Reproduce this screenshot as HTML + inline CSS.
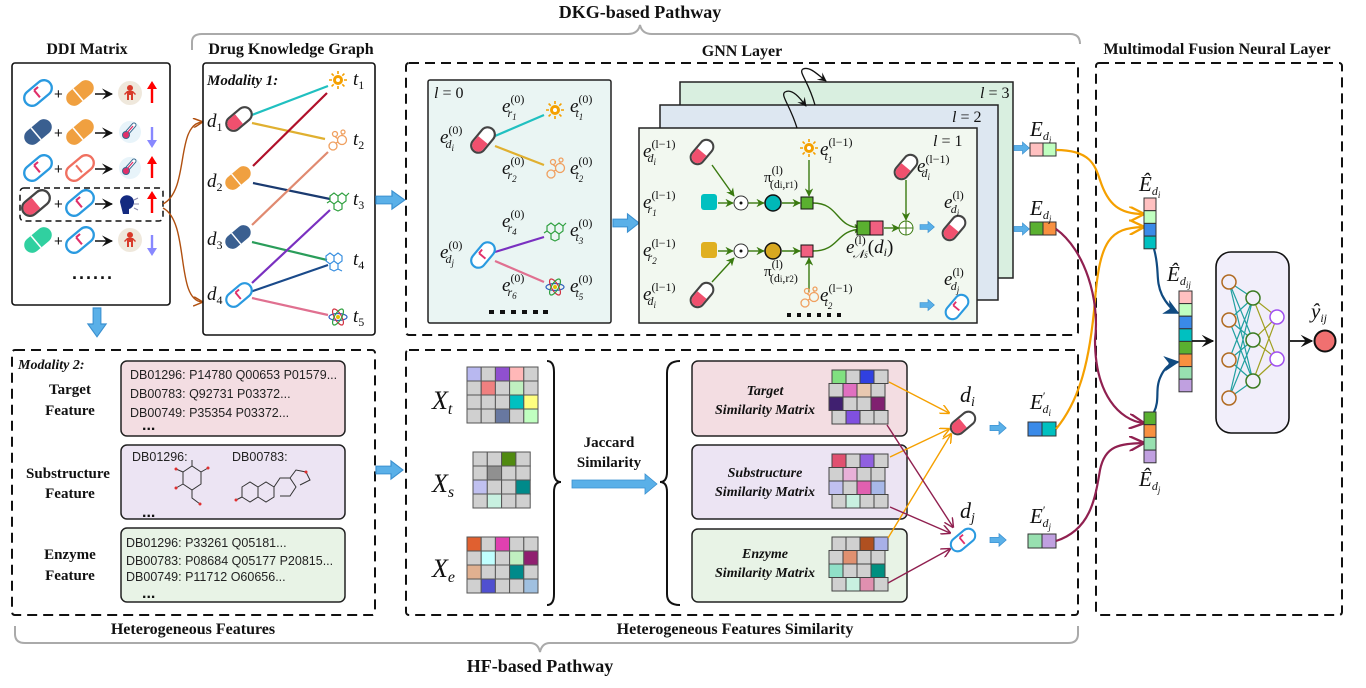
<!DOCTYPE html>
<html><head><meta charset="utf-8"><style>
html,body{margin:0;padding:0;background:#fff;}
svg{display:block;}
.t{font-family:"Liberation Serif",serif;font-weight:bold;fill:#111;}
.m{font-family:"Liberation Serif",serif;font-style:italic;font-size:19px;fill:#111;}
.s{font-size:12px;}
.ss{font-size:9px;}
.n{font-style:normal;}
.db{font-family:"Liberation Sans",sans-serif;font-size:12.5px;fill:#222;}
.bi{font-family:"Liberation Serif",serif;font-weight:bold;font-style:italic;font-size:14px;fill:#111;}
</style></head><body>
<svg width="1366" height="688" viewBox="0 0 1366 688" xmlns="http://www.w3.org/2000/svg">
<defs>
<g id="pw"><rect x="-12" y="-6" width="24" height="12" rx="6" fill="#fff" stroke="#444" stroke-width="1.8"/><path d="M0,-5.1 H-6 A5.1,5.1 0 0 0 -6,5.1 H0Z" fill="#f0506e"/></g>
<g id="pb"><rect x="-12" y="-6" width="24" height="12" rx="6" fill="#fff" stroke="#2a9ae0" stroke-width="1.8"/><path d="M-1,-3.5 V3.5 M-1,-3.5 H3" stroke="#e0306a" stroke-width="1.6" fill="none"/></g>
<g id="po"><rect x="-12" y="-6" width="24" height="12" rx="6" fill="#f0a040"/><path d="M-2,-6 V6" stroke="#fff" stroke-width="1.2"/></g>
<g id="pn"><rect x="-12" y="-6" width="24" height="12" rx="6" fill="#3a5f90"/><path d="M-2,-6 V6" stroke="#fff" stroke-width="1.2"/></g>
<g id="pg"><rect x="-12" y="-6" width="24" height="12" rx="6" fill="#30d0a0"/><path d="M-2,-6 V6" stroke="#fff" stroke-width="1.2"/></g>
<g id="ps"><rect x="-12" y="-6" width="24" height="12" rx="6" fill="#fff" stroke="#f07060" stroke-width="1.8"/><path d="M-1,-3.5 V3.5" stroke="#f07060" stroke-width="1.6"/></g>
<path id="ba" d="M0,-3 H10 V-7 L18,0 L10,7 V3 H0Z" fill="#5ab0e8" stroke="#3a90d0" stroke-width="0.8"/>
<g id="sun"><circle r="5" fill="#f5a000"/><circle r="2" fill="#fff"/><g stroke="#f5a000" stroke-width="1.6"><path d="M0,-9V-6M0,6V9M-9,0H-6M6,0H9M-6.4,-6.4L-4.3,-4.3M4.3,4.3L6.4,6.4M-6.4,6.4L-4.3,4.3M4.3,-4.3L6.4,-6.4"/></g></g>
<g id="mol" fill="none" stroke="#f0a060" stroke-width="1.3"><circle cx="-4" cy="4" r="4"/><circle cx="5" cy="-2" r="4.5"/><circle cx="-2" cy="-8" r="2.5"/><circle cx="6" cy="-10" r="2"/><path d="M-1,1 L1,0 M-2,-5.5 L1,-3 M5,-8 V-6.5"/></g>
<g id="hexg" fill="none" stroke="#30a040" stroke-width="1.2"><path d="M-9,-4 L-5,-7 L-1,-4 L-1,1 L-5,4 L-9,1Z M-1,-4 L3,-7 L7,-4 L7,1 L3,4 L-1,1 M-1,1 L3,4 L3,9 L-1,11 L-5,9 L-5,4 M7,-4 L10,-7 M-9,1 L-12,3"/></g>
<g id="hexb" fill="none" stroke="#3a90e0" stroke-width="1.2"><path d="M-9,-4 L-5,-7 L-1,-4 L-1,1 L-5,4 L-9,1Z M-1,-4 L3,-7 L7,-4 L7,1 L3,4 L-1,1 M-1,1 L3,4 L3,9 L-1,11 L-5,9 L-5,4 M3,9 L7,11"/></g>
<g id="atom" fill="none" stroke-width="1.2"><ellipse rx="9" ry="3.5" stroke="#3060c0"/><ellipse rx="9" ry="3.5" stroke="#d03040" transform="rotate(60)"/><ellipse rx="9" ry="3.5" stroke="#30a040" transform="rotate(-60)"/><circle r="2" fill="#e0c000" stroke="none"/></g>
<g id="hum"><circle r="12" fill="#efe8dc"/><g fill="#d83a2a"><circle cy="-5" r="3"/><path d="M-3,-2 H3 L6,1 L5,2 L3,0 V7 H1 V2 H-1 V7 H-3 V0 L-5,2 L-6,1Z"/></g></g>
<g id="therm"><circle r="11" fill="#e8f4fa"/><path d="M4,-7 L-3,1" stroke="#3a6a90" stroke-width="5" stroke-linecap="round"/><path d="M4,-7 L-3,1" stroke="#fff" stroke-width="3" stroke-linecap="round"/><circle cx="-4" cy="3" r="3.5" fill="#e0306a" stroke="#3a6a90"/><path d="M3,-6 L-3,1" stroke="#e0306a" stroke-width="1.3"/></g>
<marker id="ar" viewBox="0 0 10 10" refX="9" refY="5" markerWidth="7" markerHeight="7" orient="auto"><path d="M0,0 L10,5 L0,10 L4,5Z" fill="#111"/></marker>
<marker id="arb" viewBox="0 0 10 10" refX="9" refY="5" markerWidth="7" markerHeight="7" orient="auto"><path d="M0,0 L10,5 L0,10" fill="none" stroke="#b05010" stroke-width="1.5"/></marker>
<marker id="arg" viewBox="0 0 10 10" refX="9" refY="5" markerWidth="6" markerHeight="6" orient="auto"><path d="M0,0 L10,5 L0,10 L3,5Z" fill="#3a7a10"/></marker>
<marker id="aro" viewBox="0 0 10 10" refX="9" refY="5" markerWidth="7" markerHeight="7" orient="auto"><path d="M0,0 L10,5 L0,10" fill="none" stroke="#f5a000" stroke-width="1.5"/></marker>
<marker id="arp" viewBox="0 0 10 10" refX="9" refY="5" markerWidth="7" markerHeight="7" orient="auto"><path d="M0,0 L10,5 L0,10" fill="none" stroke="#902050" stroke-width="1.5"/></marker>
<marker id="arn" viewBox="0 0 10 10" refX="9" refY="5" markerWidth="7" markerHeight="7" orient="auto"><path d="M0,0 L10,5 L0,10 L3,5Z" fill="#104a80"/></marker>
</defs>

<!-- Titles -->
<text class="t" x="640" y="18" font-size="18" text-anchor="middle">DKG-based Pathway</text>
<path d="M192,50 V42 Q192,34 202,34 H628 Q638,34 640,25 Q642,34 652,34 H1070 Q1080,34 1080,44" fill="none" stroke="#aaa" stroke-width="2"/>
<text class="t" x="87" y="54" font-size="16" text-anchor="middle">DDI Matrix</text>
<text class="t" x="291" y="54" font-size="16" text-anchor="middle">Drug Knowledge Graph</text>
<text class="t" x="742" y="56" font-size="16" text-anchor="middle">GNN Layer</text>
<text class="t" x="1217" y="54" font-size="16" text-anchor="middle">Multimodal Fusion Neural Layer</text>

<!-- DDI box -->
<rect x="12" y="63" width="158" height="242" rx="3" fill="#fff" stroke="#111" stroke-width="1.6"/>
<g font-family="Liberation Sans" font-size="15" fill="#111">
<use href="#pb" transform="translate(38,93) rotate(-40) scale(1.3)"/><text x="54" y="99">+</text><use href="#po" transform="translate(80,93) rotate(-40) scale(1.3)"/><use href="#hum" x="130" y="93"/>
<use href="#pn" transform="translate(38,132) rotate(-40) scale(1.3)"/><text x="54" y="138">+</text><use href="#po" transform="translate(80,132) rotate(-40) scale(1.3)"/><use href="#therm" x="130" y="132"/>
<use href="#pb" transform="translate(38,168) rotate(-40) scale(1.3)"/><text x="54" y="174">+</text><use href="#ps" transform="translate(80,168) rotate(-40) scale(1.3)"/><use href="#therm" x="130" y="168"/>
<use href="#pw" transform="translate(36,203) rotate(-40) scale(1.3)"/><text x="54" y="209">+</text><use href="#pb" transform="translate(80,203) rotate(-40) scale(1.3)"/>
<use href="#pg" transform="translate(38,240) rotate(-40) scale(1.3)"/><text x="54" y="246">+</text><use href="#pb" transform="translate(80,240) rotate(-40) scale(1.3)"/><use href="#hum" x="130" y="240"/>
</g>
<g stroke="#111" stroke-width="1.6" marker-end="url(#ar)"><path d="M95,94 H112"/><path d="M95,133 H112"/><path d="M95,169 H112"/><path d="M95,204 H112"/><path d="M95,241 H112"/></g>
<path d="M120,202 a7,7 0 1 1 9,7 l0,5 h-6 z" fill="#142a80"/><path d="M134,200 l4,-2 M134,204 h5 M134,208 l4,2" stroke="#88a" stroke-width="1"/>
<g stroke-width="2.4"><path d="M152,103 V88" stroke="#f00"/><path d="M152,127 V141" stroke="#88f"/><path d="M152,178 V163" stroke="#f00"/><path d="M152,213 V198" stroke="#f00"/><path d="M152,235 V249" stroke="#88f"/></g>
<g fill="#f00"><path d="M147,89 L152,81 L157,89Z"/><path d="M147,164 L152,156 L157,164Z"/><path d="M147,199 L152,191 L157,199Z"/></g>
<g fill="#88f"><path d="M147,140 L152,148 L157,140Z"/><path d="M147,248 L152,256 L157,248Z"/></g>
<rect x="20" y="188" width="143" height="33" rx="4" fill="none" stroke="#111" stroke-width="1.5" stroke-dasharray="6,4"/>
<text x="93" y="279" font-family="Liberation Sans" font-size="18" font-weight="bold" fill="#111" text-anchor="middle" letter-spacing="2">......</text>
<path d="M163,204 C190,190 175,125 202,122" fill="none" stroke="#b05010" stroke-width="1.4" marker-end="url(#arb)"/>
<path d="M163,208 C190,222 175,300 202,302" fill="none" stroke="#b05010" stroke-width="1.4" marker-end="url(#arb)"/>
<use href="#ba" transform="translate(97,308) rotate(90) scale(1.6,1.3)"/>

<!-- DKG box -->
<rect x="203" y="63" width="172" height="272" rx="3" fill="#fff" stroke="#111" stroke-width="1.6"/>
<text class="bi" x="207" y="85" style="font-size:15px">Modality 1:</text>
<g stroke-width="2.2" fill="none">
<path d="M252,115 L328,86" stroke="#20c0c0"/><path d="M252,123 L325,139" stroke="#e0b030"/>
<path d="M253,166 L327,93" stroke="#b0102a"/><path d="M253,183 L330,199" stroke="#1a3a70"/>
<path d="M252,225 L328,152" stroke="#e08a70"/><path d="M252,242 L327,260" stroke="#2a9d5a"/>
<path d="M252,283 L330,210" stroke="#7a30c0"/><path d="M250,292 L328,265" stroke="#1a4a8a"/>
<path d="M252,298 L328,315" stroke="#e07090"/>
</g>
<use href="#pw" transform="translate(239,119) rotate(-40) scale(1.2)"/>
<use href="#po" transform="translate(238,178) rotate(-40) scale(1.2)"/>
<use href="#pn" transform="translate(238,237) rotate(-40) scale(1.2)"/>
<use href="#pb" transform="translate(239,295) rotate(-40) scale(1.2)"/>
<use href="#sun" x="338" y="80"/><use href="#mol" x="337" y="142"/><use href="#hexg" x="339" y="200"/><use href="#hexb" x="335" y="260"/><use href="#atom" x="338" y="317"/>
<text class="m" x="207" y="127">d<tspan class="s n" dy="4">1</tspan></text>
<text class="m" x="207" y="187">d<tspan class="s n" dy="4">2</tspan></text>
<text class="m" x="207" y="245">d<tspan class="s n" dy="4">3</tspan></text>
<text class="m" x="207" y="300">d<tspan class="s n" dy="4">4</tspan></text>
<text class="m" x="353" y="85">t<tspan class="s n" dy="4">1</tspan></text>
<text class="m" x="353" y="145">t<tspan class="s n" dy="4">2</tspan></text>
<text class="m" x="353" y="205">t<tspan class="s n" dy="4">3</tspan></text>
<text class="m" x="353" y="265">t<tspan class="s n" dy="4">4</tspan></text>
<text class="m" x="353" y="322">t<tspan class="s n" dy="4">5</tspan></text>
<use href="#ba" transform="translate(376,200) scale(1.6,1.3)"/>

<!-- GNN dashed box -->
<rect x="406" y="63" width="672" height="272" rx="3" fill="none" stroke="#111" stroke-width="2" stroke-dasharray="10,6"/>
<rect x="428" y="80" width="183" height="243" rx="2" fill="#eaf5f3" stroke="#222" stroke-width="1.5"/>
<text class="m" x="434" y="98" style="font-size:16px">l <tspan class="n">= 0</tspan></text>
<path d="M495,136 L544,115" stroke="#20c0c0" stroke-width="2.2"/><path d="M495,146 L544,165" stroke="#e0b030" stroke-width="2.2"/>
<path d="M495,252 L544,237" stroke="#7a30c0" stroke-width="2.2"/><path d="M495,261 L544,282" stroke="#e07090" stroke-width="2.2"/>
<use href="#pw" transform="translate(483,140) rotate(-50) scale(1.2)"/>
<use href="#pb" transform="translate(483,255) rotate(-50) scale(1.2)"/>
<use href="#sun" x="555" y="110"/><use href="#mol" x="555" y="170"/><use href="#hexg" x="556" y="230"/><use href="#atom" x="555" y="287"/>
<g class="m">
<text x="440" y="143">e<tspan class="s n" dy="-9">(0)</tspan><tspan class="s" dx="-17" dy="14">d</tspan><tspan class="ss" dy="3">i</tspan></text>
<text x="440" y="258">e<tspan class="s n" dy="-9">(0)</tspan><tspan class="s" dx="-17" dy="14">d</tspan><tspan class="ss" dy="3">j</tspan></text>
<text x="502" y="112">e<tspan class="s n" dy="-9">(0)</tspan><tspan class="s" dx="-17" dy="14">r</tspan><tspan class="ss" dy="3">1</tspan></text>
<text x="502" y="174">e<tspan class="s n" dy="-9">(0)</tspan><tspan class="s" dx="-17" dy="14">r</tspan><tspan class="ss" dy="3">2</tspan></text>
<text x="502" y="227">e<tspan class="s n" dy="-9">(0)</tspan><tspan class="s" dx="-17" dy="14">r</tspan><tspan class="ss" dy="3">4</tspan></text>
<text x="502" y="291">e<tspan class="s n" dy="-9">(0)</tspan><tspan class="s" dx="-17" dy="14">r</tspan><tspan class="ss" dy="3">6</tspan></text>
<text x="570" y="112">e<tspan class="s n" dy="-9">(0)</tspan><tspan class="s" dx="-17" dy="14">t</tspan><tspan class="ss" dy="3">1</tspan></text>
<text x="570" y="174">e<tspan class="s n" dy="-9">(0)</tspan><tspan class="s" dx="-17" dy="14">t</tspan><tspan class="ss" dy="3">2</tspan></text>
<text x="570" y="236">e<tspan class="s n" dy="-9">(0)</tspan><tspan class="s" dx="-17" dy="14">t</tspan><tspan class="ss" dy="3">3</tspan></text>
<text x="570" y="292">e<tspan class="s n" dy="-9">(0)</tspan><tspan class="s" dx="-17" dy="14">t</tspan><tspan class="ss" dy="3">5</tspan></text>
</g>
<g fill="#111"><rect x="489" y="310" width="5" height="4"/><rect x="500" y="310" width="5" height="4"/><rect x="511" y="310" width="5" height="4"/><rect x="522" y="310" width="5" height="4"/><rect x="533" y="310" width="5" height="4"/><rect x="543" y="310" width="5" height="4"/></g>
<use href="#ba" transform="translate(613,223) scale(1.45,1.3)"/>

<!-- stacked layers -->
<rect x="680" y="82" width="333" height="196" fill="#d9efe0" stroke="#222" stroke-width="1.5"/>
<rect x="660" y="105" width="338" height="195" fill="#dde7f1" stroke="#222" stroke-width="1.5"/>
<rect x="639" y="128" width="338" height="195" fill="#f2f8f0" stroke="#222" stroke-width="1.5"/>
<text class="m" x="980" y="98" style="font-size:16px">l <tspan class="n">= 3</tspan></text>
<text class="m" x="952" y="122" style="font-size:16px">l <tspan class="n">= 2</tspan></text>
<text class="m" x="933" y="146" style="font-size:16px">l <tspan class="n">= 1</tspan></text>
<path d="M797,128 C790,105 780,95 785,92 C792,88 800,98 806,106" fill="none" stroke="#111" stroke-width="1.3" marker-end="url(#ar)"/>
<path d="M815,105 C808,80 798,72 803,69 C810,66 818,75 826,81" fill="none" stroke="#111" stroke-width="1.3" marker-end="url(#ar)"/>
<!-- l=1 content -->
<g stroke="#3a7a10" stroke-width="1.4" fill="none" marker-end="url(#arg)">
<path d="M712,165 L734,196"/><path d="M718,203 H733"/><path d="M748,203 H764"/><path d="M782,203 H800"/>
<path d="M809,160 V196"/><path d="M813,203 C840,203 835,228 862,228"/>
<path d="M718,251 H733"/><path d="M748,251 H764"/><path d="M782,251 H800"/>
<path d="M712,282 L734,258"/><path d="M809,292 V258"/><path d="M813,251 C840,251 835,230 862,229"/>
<path d="M884,228 H899"/><path d="M906,180 V220"/>
</g>
<rect x="701" y="194" width="16" height="16" rx="3" fill="#00c0c0"/>
<rect x="701" y="242" width="16" height="16" rx="3" fill="#e0b020"/>
<circle cx="741" cy="203" r="7" fill="#fff" stroke="#333"/><circle cx="741" cy="203" r="1.5" fill="#111"/>
<circle cx="741" cy="251" r="7" fill="#fff" stroke="#333"/><circle cx="741" cy="251" r="1.5" fill="#111"/>
<circle cx="773" cy="203" r="8" fill="#00b8b8" stroke="#111" stroke-width="1.5"/>
<circle cx="773" cy="251" r="8" fill="#d8a820" stroke="#111" stroke-width="1.5"/>
<rect x="801" y="197" width="12" height="12" fill="#5ab030" stroke="#111"/>
<rect x="801" y="245" width="12" height="12" fill="#f06080" stroke="#111"/>
<rect x="857" y="221" width="13" height="14" fill="#5ab030" stroke="#111"/><rect x="870" y="221" width="13" height="14" fill="#f06080" stroke="#111"/>
<circle cx="906" cy="228" r="7" fill="#fff" stroke="#3a7a10"/><path d="M899,228 H913 M906,221 V235" stroke="#3a7a10"/>
<use href="#ba" transform="translate(920,227) scale(0.8)"/>
<use href="#ba" transform="translate(920,305) scale(0.8)"/>
<use href="#pw" transform="translate(702,152) rotate(-50) scale(1.15)"/>
<use href="#pw" transform="translate(702,295) rotate(-50) scale(1.15)"/>
<use href="#pw" transform="translate(906,167) rotate(-50) scale(1.15)"/>
<use href="#pw" transform="translate(954,228) rotate(-50) scale(1.15)"/>
<use href="#pb" transform="translate(957,307) rotate(-50) scale(1.15)"/>
<use href="#sun" x="809" y="148"/><use href="#mol" x="809" y="299"/>
<g class="m">
<text x="643" y="157">e<tspan class="s n" dy="-9">(l−1)</tspan><tspan class="s" dx="-28" dy="14">d</tspan><tspan class="ss" dy="3">i</tspan></text>
<text x="643" y="208">e<tspan class="s n" dy="-9">(l−1)</tspan><tspan class="s" dx="-28" dy="14">r</tspan><tspan class="ss" dy="3">1</tspan></text>
<text x="643" y="256">e<tspan class="s n" dy="-9">(l−1)</tspan><tspan class="s" dx="-28" dy="14">r</tspan><tspan class="ss" dy="3">2</tspan></text>
<text x="643" y="300">e<tspan class="s n" dy="-9">(l−1)</tspan><tspan class="s" dx="-28" dy="14">d</tspan><tspan class="ss" dy="3">i</tspan></text>
<text x="820" y="155">e<tspan class="s n" dy="-9">(l−1)</tspan><tspan class="s" dx="-28" dy="14">t</tspan><tspan class="ss" dy="3">1</tspan></text>
<text x="820" y="301">e<tspan class="s n" dy="-9">(l−1)</tspan><tspan class="s" dx="-28" dy="14">t</tspan><tspan class="ss" dy="3">2</tspan></text>
<text x="917" y="172">e<tspan class="s n" dy="-9">(l−1)</tspan><tspan class="s" dx="-28" dy="14">d</tspan><tspan class="ss" dy="3">i</tspan></text>
<text x="944" y="208">e<tspan class="s n" dy="-9">(l)</tspan><tspan class="s" dx="-13" dy="14">d</tspan><tspan class="ss" dy="3">i</tspan></text>
<text x="944" y="285">e<tspan class="s n" dy="-9">(l)</tspan><tspan class="s" dx="-13" dy="14">d</tspan><tspan class="ss" dy="3">j</tspan></text>
<text x="764" y="182" style="font-size:15px"><tspan class="n">π</tspan><tspan class="s n" dy="-8">(l)</tspan><tspan class="s n" dx="-13" dy="14">(d<tspan class="ss">i</tspan>,r<tspan class="ss">1</tspan>)</tspan></text>
<text x="764" y="276" style="font-size:15px"><tspan class="n">π</tspan><tspan class="s n" dy="-8">(l)</tspan><tspan class="s n" dx="-13" dy="14">(d<tspan class="ss">i</tspan>,r<tspan class="ss">2</tspan>)</tspan></text>
<text x="846" y="253">e<tspan class="s n" dy="-9">(l)</tspan><tspan class="s" dx="-13" dy="14">𝒩<tspan class="ss">s</tspan></tspan><tspan class="n" dy="-5">(</tspan>d<tspan class="s" dy="3">i</tspan><tspan class="n" dy="-3">)</tspan></text>
</g>
<g fill="#111"><rect x="787" y="313" width="4" height="4"/><rect x="797" y="313" width="4" height="4"/><rect x="807" y="313" width="4" height="4"/><rect x="817" y="313" width="4" height="4"/><rect x="827" y="313" width="4" height="4"/><rect x="837" y="313" width="4" height="4"/></g>
<!-- E outputs -->
<use href="#ba" transform="translate(1014,148) scale(0.85)"/>
<use href="#ba" transform="translate(1014,229) scale(0.85)"/>
<rect x="1030" y="143" width="13" height="13" fill="#ffc0c0" stroke="#333"/><rect x="1043" y="143" width="13" height="13" fill="#c0ffc0" stroke="#333"/>
<rect x="1030" y="222" width="13" height="13" fill="#5ab030" stroke="#333"/><rect x="1043" y="222" width="13" height="13" fill="#f89040" stroke="#333"/>
<text class="m" x="1030" y="136" style="font-size:21px">E<tspan class="s" dy="4">d</tspan><tspan class="ss" dy="3">i</tspan></text>
<text class="m" x="1030" y="215" style="font-size:21px">E<tspan class="s" dy="4">d</tspan><tspan class="ss" dy="3">j</tspan></text>

<!-- Modality 2 -->
<rect x="12" y="350" width="363" height="265" rx="3" fill="none" stroke="#111" stroke-width="2" stroke-dasharray="10,6"/>
<text class="bi" x="18" y="369">Modality 2:</text>
<g class="t" font-size="15" text-anchor="middle">
<text x="70" y="394">Target</text><text x="70" y="415">Feature</text>
<text x="68" y="478">Substructure</text><text x="70" y="498">Feature</text>
<text x="70" y="559">Enzyme</text><text x="70" y="580">Feature</text>
</g>
<rect x="121" y="361" width="224" height="75" rx="6" fill="#f3dde2" stroke="#222" stroke-width="1.5"/>
<rect x="121" y="445" width="224" height="74" rx="6" fill="#ece4f3" stroke="#222" stroke-width="1.5"/>
<rect x="121" y="528" width="224" height="74" rx="6" fill="#e8f3e6" stroke="#222" stroke-width="1.5"/>
<g class="db">
<text x="130" y="379">DB01296: P14780 Q00653 P01579...</text>
<text x="130" y="398">DB00783: Q92731 P03372...</text>
<text x="130" y="417">DB00749: P35354 P03372...</text>
<text x="132" y="461">DB01296:</text><text x="232" y="461">DB00783:</text>
<text x="126" y="547">DB01296: P33261 Q05181...</text>
<text x="126" y="565">DB00783: P08684 Q05177 P20815...</text>
<text x="126" y="581">DB00749: P11712 O60656...</text>
</g>
<g font-family="Liberation Sans" font-weight="bold" font-size="16" fill="#111"><text x="142" y="430">...</text><text x="142" y="517">...</text><text x="142" y="598">...</text></g>
<g fill="none" stroke="#333" stroke-width="1"><path d="M183,472 L192,466 L201,472 L201,484 L192,490 L183,484Z M192,466 V460 M201,472 L208,468 M183,472 L176,469 M183,484 L176,488 M192,490 V498 L200,504"/>
<path d="M242,487 L250,482 L258,487 L258,497 L250,502 L242,497Z M258,487 L266,482 L274,487 L274,497 L266,502 L258,497 M274,487 L280,478 L290,478 L296,487 L290,496 L280,496 M290,478 L296,470 L306,472 L310,480 L300,485 M242,497 L236,500"/></g>
<g fill="#e03030"><circle cx="176" cy="469" r="1.5"/><circle cx="176" cy="488" r="1.5"/><circle cx="208" cy="468" r="1.5"/><circle cx="200" cy="504" r="1.5"/><circle cx="236" cy="500" r="1.5"/><circle cx="306" cy="472" r="1.5"/></g>
<use href="#ba" transform="translate(376,470) scale(1.5,1.3)"/>

<!-- HF similarity -->
<rect x="406" y="350" width="672" height="265" rx="3" fill="none" stroke="#111" stroke-width="2" stroke-dasharray="10,6"/>
<g class="m" style="font-size:26px">
<text x="432" y="409">X<tspan style="font-size:16px" dy="5">t</tspan></text>
<text x="432" y="492">X<tspan style="font-size:16px" dy="5">s</tspan></text>
<text x="432" y="577">X<tspan style="font-size:16px" dy="5">e</tspan></text>
</g>
<g stroke="#555" stroke-width="1">
<rect x="467" y="367" width="14.2" height="14" fill="#b8b8f0"/><rect x="481.2" y="367" width="14.2" height="14" fill="#d0d0d0"/><rect x="495.4" y="367" width="14.2" height="14" fill="#9050d0"/><rect x="509.6" y="367" width="14.2" height="14" fill="#ffb8b8"/><rect x="523.8" y="367" width="14.2" height="14" fill="#d0d0d0"/>
<rect x="467" y="381" width="14.2" height="14" fill="#d0d0d0"/><rect x="481.2" y="381" width="14.2" height="14" fill="#f08080"/><rect x="495.4" y="381" width="14.2" height="14" fill="#d0d0d0"/><rect x="509.6" y="381" width="14.2" height="14" fill="#c0f0c0"/><rect x="523.8" y="381" width="14.2" height="14" fill="#d0d0d0"/>
<rect x="467" y="395" width="14.2" height="14" fill="#d0d0d0"/><rect x="481.2" y="395" width="14.2" height="14" fill="#d0d0d0"/><rect x="495.4" y="395" width="14.2" height="14" fill="#d0d0d0"/><rect x="509.6" y="395" width="14.2" height="14" fill="#00c0c0"/><rect x="523.8" y="395" width="14.2" height="14" fill="#ffff80"/>
<rect x="467" y="409" width="14.2" height="14" fill="#d0d0d0"/><rect x="481.2" y="409" width="14.2" height="14" fill="#d0d0d0"/><rect x="495.4" y="409" width="14.2" height="14" fill="#6878a0"/><rect x="509.6" y="409" width="14.2" height="14" fill="#d0d0d0"/><rect x="523.8" y="409" width="14.2" height="14" fill="#c0ffc0"/>
<rect x="473" y="452" width="14.3" height="14" fill="#d0d0d0"/><rect x="487.3" y="452" width="14.3" height="14" fill="#d0d0d0"/><rect x="501.6" y="452" width="14.3" height="14" fill="#508a10"/><rect x="515.9" y="452" width="14.3" height="14" fill="#d0d0d0"/>
<rect x="473" y="466" width="14.3" height="14" fill="#d0d0d0"/><rect x="487.3" y="466" width="14.3" height="14" fill="#909090"/><rect x="501.6" y="466" width="14.3" height="14" fill="#d0d0d0"/><rect x="515.9" y="466" width="14.3" height="14" fill="#d0d0d0"/>
<rect x="473" y="480" width="14.3" height="14" fill="#c0c0f0"/><rect x="487.3" y="480" width="14.3" height="14" fill="#d0d0d0"/><rect x="501.6" y="480" width="14.3" height="14" fill="#d0d0d0"/><rect x="515.9" y="480" width="14.3" height="14" fill="#008a8a"/>
<rect x="473" y="494" width="14.3" height="14" fill="#d0d0d0"/><rect x="487.3" y="494" width="14.3" height="14" fill="#c8f0e0"/><rect x="501.6" y="494" width="14.3" height="14" fill="#d0d0d0"/><rect x="515.9" y="494" width="14.3" height="14" fill="#d0d0d0"/>
<rect x="467" y="537" width="14.2" height="14" fill="#e06030"/><rect x="481.2" y="537" width="14.2" height="14" fill="#d0d0d0"/><rect x="495.4" y="537" width="14.2" height="14" fill="#e040b0"/><rect x="509.6" y="537" width="14.2" height="14" fill="#d0d0d0"/><rect x="523.8" y="537" width="14.2" height="14" fill="#d0d0d0"/>
<rect x="467" y="551" width="14.2" height="14" fill="#d0d0d0"/><rect x="481.2" y="551" width="14.2" height="14" fill="#c0ffff"/><rect x="495.4" y="551" width="14.2" height="14" fill="#d0d0d0"/><rect x="509.6" y="551" width="14.2" height="14" fill="#c0f0c0"/><rect x="523.8" y="551" width="14.2" height="14" fill="#902070"/>
<rect x="467" y="565" width="14.2" height="14" fill="#e0b090"/><rect x="481.2" y="565" width="14.2" height="14" fill="#d0d0d0"/><rect x="495.4" y="565" width="14.2" height="14" fill="#d0d0d0"/><rect x="509.6" y="565" width="14.2" height="14" fill="#008a8a"/><rect x="523.8" y="565" width="14.2" height="14" fill="#d0d0d0"/>
<rect x="467" y="579" width="14.2" height="14" fill="#d0d0d0"/><rect x="481.2" y="579" width="14.2" height="14" fill="#5050d0"/><rect x="495.4" y="579" width="14.2" height="14" fill="#d0d0d0"/><rect x="509.6" y="579" width="14.2" height="14" fill="#d0d0d0"/><rect x="523.8" y="579" width="14.2" height="14" fill="#a0c0e0"/>
</g>
<path d="M547,361 Q554,361 554,372 V472 Q554,482 561,482 Q554,482 554,492 V594 Q554,605 547,605" fill="none" stroke="#111" stroke-width="2"/>
<text class="t" x="609" y="447" font-size="15" text-anchor="middle">Jaccard</text>
<text class="t" x="609" y="467" font-size="15" text-anchor="middle">Similarity</text>
<path d="M572,480 H645 V474 L657,484 L645,494 V488 H572Z" fill="#5ab0e8" stroke="#3a90d0" stroke-width="0.8"/>
<path d="M680,361 Q667,361 667,373 V472 Q667,482 660,482 Q667,482 667,492 V594 Q667,605 680,605" fill="none" stroke="#111" stroke-width="2"/>

<rect x="692" y="361" width="215" height="75" rx="6" fill="#f3dde2" stroke="#222" stroke-width="1.5"/>
<rect x="692" y="445" width="215" height="74" rx="6" fill="#ece4f3" stroke="#222" stroke-width="1.5"/>
<rect x="692" y="529" width="215" height="73" rx="6" fill="#e8f3e6" stroke="#222" stroke-width="1.5"/>
<g class="bi" text-anchor="middle"><text x="765" y="395">Target</text><text x="765" y="414">Similarity Matrix</text>
<text x="765" y="477">Substructure</text><text x="765" y="496">Similarity Matrix</text>
<text x="765" y="558">Enzyme</text><text x="765" y="577">Similarity Matrix</text></g>
<g stroke="#444" stroke-width="1">
<rect x="832" y="370" width="14" height="13.5" fill="#80e080"/><rect x="846" y="370" width="14" height="13.5" fill="#d0d0d0"/><rect x="860" y="370" width="14" height="13.5" fill="#3040e0"/><rect x="874" y="370" width="14" height="13.5" fill="#d0d0d0"/>
<rect x="829" y="383.5" width="14" height="13.5" fill="#d0d0d0"/><rect x="843" y="383.5" width="14" height="13.5" fill="#e070c0"/><rect x="857" y="383.5" width="14" height="13.5" fill="#e8c8b0"/><rect x="871" y="383.5" width="14" height="13.5" fill="#d0d0d0"/>
<rect x="829" y="397" width="14" height="13.5" fill="#402070"/><rect x="843" y="397" width="14" height="13.5" fill="#d0d0d0"/><rect x="857" y="397" width="14" height="13.5" fill="#d0d0d0"/><rect x="871" y="397" width="14" height="13.5" fill="#802070"/>
<rect x="832" y="410.5" width="14" height="13.5" fill="#d0d0d0"/><rect x="846" y="410.5" width="14" height="13.5" fill="#8050e0"/><rect x="860" y="410.5" width="14" height="13.5" fill="#d0d0d0"/><rect x="874" y="410.5" width="14" height="13.5" fill="#d0d0d0"/>
<rect x="832" y="454" width="14" height="13.5" fill="#e05070"/><rect x="846" y="454" width="14" height="13.5" fill="#d0d0d0"/><rect x="860" y="454" width="14" height="13.5" fill="#9060e0"/><rect x="874" y="454" width="14" height="13.5" fill="#d0d0d0"/>
<rect x="829" y="467.5" width="14" height="13.5" fill="#d0d0d0"/><rect x="843" y="467.5" width="14" height="13.5" fill="#e8b0d8"/><rect x="857" y="467.5" width="14" height="13.5" fill="#d0d0d0"/><rect x="871" y="467.5" width="14" height="13.5" fill="#d0d0d0"/>
<rect x="829" y="481" width="14" height="13.5" fill="#c0c0f0"/><rect x="843" y="481" width="14" height="13.5" fill="#d0d0d0"/><rect x="857" y="481" width="14" height="13.5" fill="#e060b0"/><rect x="871" y="481" width="14" height="13.5" fill="#a8b8e8"/>
<rect x="832" y="494.5" width="14" height="13.5" fill="#d0d0d0"/><rect x="846" y="494.5" width="14" height="13.5" fill="#c8f0e0"/><rect x="860" y="494.5" width="14" height="13.5" fill="#d0d0d0"/><rect x="874" y="494.5" width="14" height="13.5" fill="#d0d0d0"/>
<rect x="832" y="537" width="14" height="13.5" fill="#d0d0d0"/><rect x="846" y="537" width="14" height="13.5" fill="#d0d0d0"/><rect x="860" y="537" width="14" height="13.5" fill="#b05020"/><rect x="874" y="537" width="14" height="13.5" fill="#a8b0e8"/>
<rect x="829" y="550.5" width="14" height="13.5" fill="#d0d0d0"/><rect x="843" y="550.5" width="14" height="13.5" fill="#e09070"/><rect x="857" y="550.5" width="14" height="13.5" fill="#d0d0d0"/><rect x="871" y="550.5" width="14" height="13.5" fill="#d0d0d0"/>
<rect x="829" y="564" width="14" height="13.5" fill="#90e0c8"/><rect x="843" y="564" width="14" height="13.5" fill="#d0d0d0"/><rect x="857" y="564" width="14" height="13.5" fill="#d0d0d0"/><rect x="871" y="564" width="14" height="13.5" fill="#009080"/>
<rect x="832" y="577.5" width="14" height="13.5" fill="#d0d0d0"/><rect x="846" y="577.5" width="14" height="13.5" fill="#c8f0e0"/><rect x="860" y="577.5" width="14" height="13.5" fill="#e090b0"/><rect x="874" y="577.5" width="14" height="13.5" fill="#d0d0d0"/>
</g>
<g fill="none" stroke-width="1.4">
<path d="M889,382 L949,413" stroke="#f5a000" marker-end="url(#aro)"/>
<path d="M890,457 L949,429" stroke="#f5a000" marker-end="url(#aro)"/>
<path d="M888,538 L951,434" stroke="#f5a000" marker-end="url(#aro)"/>
<path d="M887,425 L953,527" stroke="#902050" marker-end="url(#arp)"/>
<path d="M890,507 L950,533" stroke="#902050" marker-end="url(#arp)"/>
<path d="M888,583 L950,549" stroke="#902050" marker-end="url(#arp)"/>
</g>
<use href="#pw" transform="translate(963,423) rotate(-40) scale(1.15)"/>
<use href="#pb" transform="translate(963,540) rotate(-40) scale(1.15)"/>
<text class="m" x="960" y="402" style="font-size:22px">d<tspan style="font-size:14px" dy="4">i</tspan></text>
<text class="m" x="960" y="518" style="font-size:22px">d<tspan style="font-size:14px" dy="4">j</tspan></text>
<use href="#ba" transform="translate(990,428) scale(0.9)"/>
<use href="#ba" transform="translate(990,540) scale(0.9)"/>
<rect x="1028" y="422" width="14" height="14" fill="#3a8ae8" stroke="#333"/><rect x="1042" y="422" width="14" height="14" fill="#00c0c0" stroke="#333"/>
<rect x="1028" y="534" width="14" height="14" fill="#98e0b0" stroke="#333"/><rect x="1042" y="534" width="14" height="14" fill="#c0a0e0" stroke="#333"/>
<text class="m" x="1030" y="409" style="font-size:21px">E<tspan class="s n" dy="-9">′</tspan><tspan class="s" dx="-3" dy="13">d</tspan><tspan class="ss" dy="3">i</tspan></text>
<text class="m" x="1030" y="523" style="font-size:21px">E<tspan class="s n" dy="-9">′</tspan><tspan class="s" dx="-3" dy="13">d</tspan><tspan class="ss" dy="3">j</tspan></text>

<text class="t" x="193" y="634" font-size="16" text-anchor="middle">Heterogeneous Features</text>
<text class="t" x="735" y="634" font-size="16" text-anchor="middle">Heterogeneous Features Similarity</text>
<path d="M15,626 V634 Q15,643 25,643 H530 Q538,643 540,652 Q542,643 550,643 H1068 Q1078,643 1078,634 V626" fill="none" stroke="#aaa" stroke-width="2"/>
<text class="t" x="540" y="672" font-size="18" text-anchor="middle">HF-based Pathway</text>

<!-- Multimodal fusion -->
<rect x="1096" y="63" width="246" height="552" rx="3" fill="none" stroke="#111" stroke-width="2" stroke-dasharray="10,6"/>
<g fill="none" stroke-width="2.2">
<path d="M1056,150 C1090,150 1095,165 1100,180 C1108,205 1120,214 1143,214" stroke="#f5a000" marker-end="url(#aro)"/>
<path d="M1056,429 C1080,400 1090,360 1095,300 C1100,240 1110,228 1143,227" stroke="#f5a000" marker-end="url(#aro)"/>
<path d="M1056,229 C1085,250 1100,300 1095,340 C1095,395 1120,420 1143,423" stroke="#902050" marker-end="url(#arp)"/>
<path d="M1056,541 C1090,530 1095,500 1100,470 C1105,445 1120,444 1143,443" stroke="#902050" marker-end="url(#arp)"/>
<path d="M1154,249 C1160,270 1155,280 1162,295 C1166,303 1172,310 1178,313" stroke="#104a80" marker-end="url(#arn)"/>
<path d="M1154,412 C1160,400 1155,390 1160,378 C1164,368 1170,363 1178,362" stroke="#104a80" marker-end="url(#arn)"/>
</g>
<g stroke="#333" stroke-width="1">
<rect x="1144" y="198" width="12" height="12.7" fill="#ffc0c0"/><rect x="1144" y="210.7" width="12" height="12.7" fill="#c0ffc0"/><rect x="1144" y="223.4" width="12" height="12.7" fill="#3a8ae8"/><rect x="1144" y="236.1" width="12" height="12.7" fill="#00c0c0"/>
<rect x="1179" y="291" width="13" height="12.6" fill="#ffc0c0"/><rect x="1179" y="303.6" width="13" height="12.6" fill="#c0ffc0"/><rect x="1179" y="316.2" width="13" height="12.6" fill="#3a8ae8"/><rect x="1179" y="328.8" width="13" height="12.6" fill="#00c0c0"/><rect x="1179" y="341.4" width="13" height="12.6" fill="#5ab030"/><rect x="1179" y="354" width="13" height="12.6" fill="#f89040"/><rect x="1179" y="366.6" width="13" height="12.6" fill="#98e0b0"/><rect x="1179" y="379.2" width="13" height="12.6" fill="#c0a0e0"/>
<rect x="1144" y="412" width="12" height="12.7" fill="#5ab030"/><rect x="1144" y="424.7" width="12" height="12.7" fill="#f89040"/><rect x="1144" y="437.4" width="12" height="12.7" fill="#98e0b0"/><rect x="1144" y="450.1" width="12" height="12.7" fill="#c0a0e0"/>
</g>
<text class="m" x="1139" y="191" style="font-size:21px">Ê<tspan class="s" dy="4">d</tspan><tspan class="ss" dy="3">i</tspan></text>
<text class="m" x="1167" y="281" style="font-size:21px">Ê<tspan class="s" dy="4">d</tspan><tspan class="ss" dy="3">ij</tspan></text>
<text class="m" x="1139" y="486" style="font-size:21px">Ê<tspan class="s" dy="4">d</tspan><tspan class="ss" dy="3">j</tspan></text>
<path d="M1192,341 H1213" stroke="#111" stroke-width="1.8" marker-end="url(#ar)"/>
<rect x="1216" y="252" width="73" height="181" rx="15" fill="#f1eefa" stroke="#111" stroke-width="1.6"/>
<g stroke-width="1.2">
<g stroke="#20a0a0"><path d="M1229,282 L1253,298 M1229,282 L1253,340 M1229,282 L1253,381 M1229,320 L1253,298 M1229,320 L1253,340 M1229,320 L1253,381 M1229,360 L1253,298 M1229,360 L1253,340 M1229,360 L1253,381 M1229,398 L1253,298 M1229,398 L1253,340 M1229,398 L1253,381"/></g>
<g stroke="#a0a020"><path d="M1253,298 L1277,317 M1253,298 L1277,359 M1253,340 L1277,317 M1253,340 L1277,359 M1253,381 L1277,317 M1253,381 L1277,359"/></g>
<g fill="#f1eefa" stroke="#b06a20" stroke-width="1.5"><circle cx="1229" cy="282" r="7"/><circle cx="1229" cy="320" r="7"/><circle cx="1229" cy="360" r="7"/><circle cx="1229" cy="398" r="7"/></g>
<g fill="#f1eefa" stroke="#3a7a20" stroke-width="1.5"><circle cx="1253" cy="298" r="7"/><circle cx="1253" cy="340" r="7"/><circle cx="1253" cy="381" r="7"/></g>
<g fill="#fff" stroke="#a050f0" stroke-width="1.5"><circle cx="1277" cy="317" r="7"/><circle cx="1277" cy="359" r="7"/></g>
</g>
<path d="M1290,341 H1312" stroke="#111" stroke-width="1.8" marker-end="url(#ar)"/>
<circle cx="1325" cy="341" r="10.5" fill="#f07070" stroke="#111" stroke-width="2"/>
<text class="m" x="1311" y="318" style="font-size:21px">ŷ<tspan class="s" dy="4">ij</tspan></text>
</svg>
</body></html>
